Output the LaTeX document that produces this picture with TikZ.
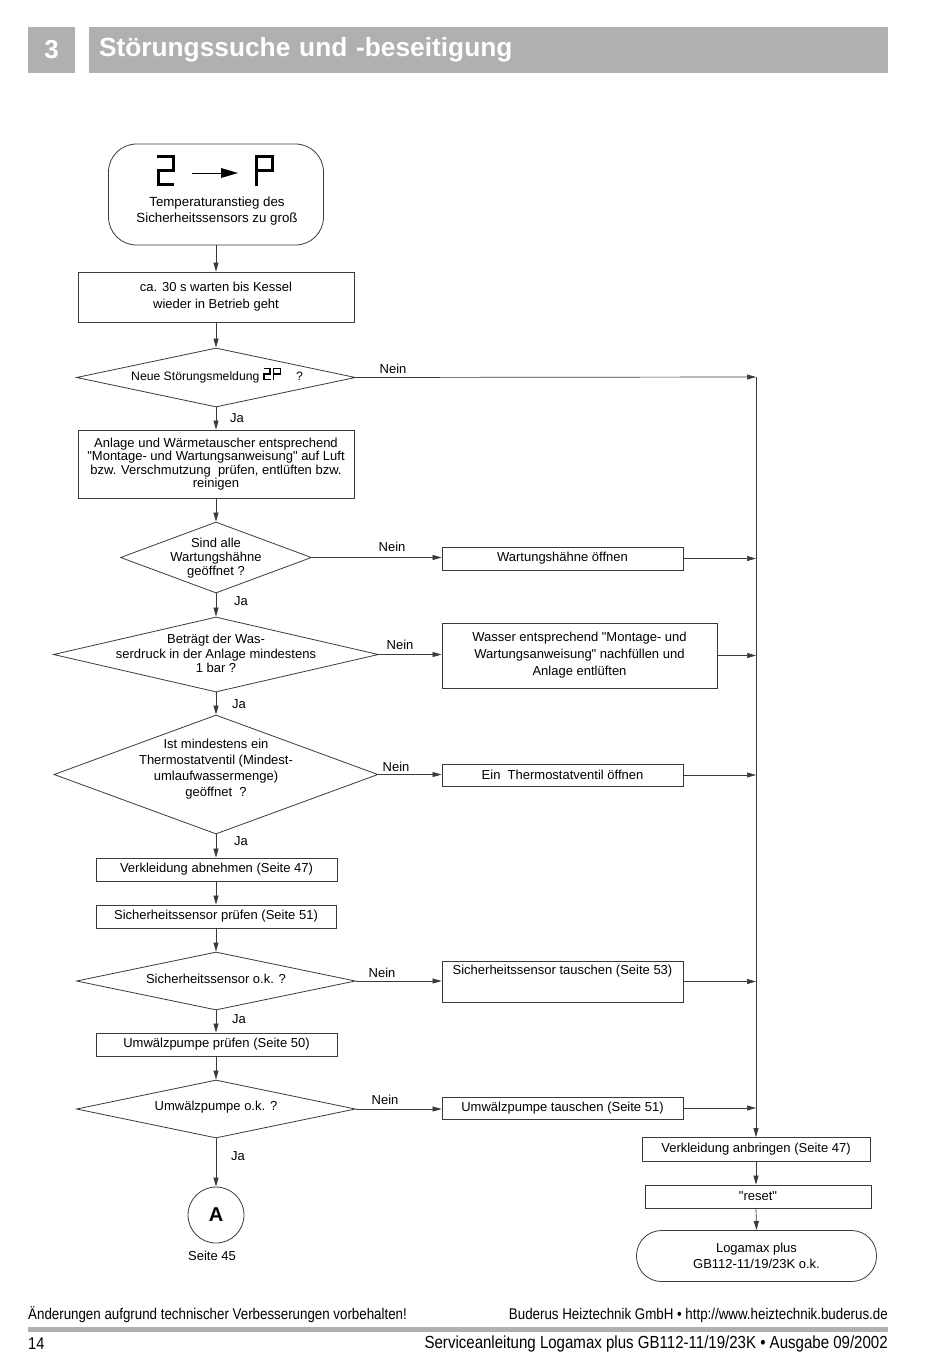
\documentclass[tikz,border=0pt]{standalone}
\usepackage{fontspec}
\setmainfont{Liberation Sans}[Ligatures=TeXOff]
\newfontfamily\narrowfont[FakeStretch=0.86]{Liberation Sans}
\usetikzlibrary{arrows.meta,shapes.geometric}
\definecolor{hdr}{HTML}{B0B0B0}
\definecolor{edge}{HTML}{3A3A3A}
\newcommand\fsz{\fontsize{13}{14}\selectfont}
\tikzset{
  box/.style={draw=edge, line width=0.8pt, fill=white, inner sep=2pt, align=center, font=\fsz},
  dia/.style={diamond, draw=edge, line width=0.8pt, inner sep=0pt},
  dtxt/.style={inner sep=0pt, align=center, font=\fsz},
  lbl/.style={inner sep=0pt, font=\fsz},
  arr/.style={-{Triangle[length=9pt,width=5pt]}, line width=0.7pt, draw=edge},
  ln/.style={line width=0.7pt, draw=edge},
  seg/.style={line width=3pt, line join=miter, line cap=butt},
  sseg/.style={line width=1.3pt, line join=miter, line cap=butt},
  ftr/.style={inner sep=0pt, font=\narrowfont\fontsize{15.5}{15.5}\selectfont},
}
\begin{document}
\begin{tikzpicture}[x=1pt,y=-1pt]
\useasboundingbox (0,0) rectangle (950,1357);

% header
\node[fill=hdr, minimum width=47, minimum height=46, inner sep=0pt, text=white,
      font=\bfseries\fontsize{26}{26}\selectfont] (hnum) at (51.5,50) {3};
\node[fill=hdr, minimum height=46, text width=779, inner xsep=10pt, inner ysep=0pt, align=left, text=white,
      font=\bfseries\fontsize{26.3}{26.3}\selectfont] (htitle) at (488.5,50) {\raisebox{1pt}{Störungssuche und -beseitigung}};

% start
\node[draw=edge, line width=0.8pt, rounded corners=28, minimum width=215, minimum height=101, inner sep=0pt] (start) at (216,194.5) {};
\node[dtxt, font=\fontsize{13.3}{16.8}\selectfont] (starttxt) at (217,211) {Temperaturanstieg des\\Sicherheitssensors zu groß};
\draw[seg] (157,156.5) -- (173,156.5) -- (173,170.5) -- (158.5,170.5) -- (158.5,184.5) -- (174,184.5);
\draw[line width=0.9pt] (192,173) -- (223,173);
\fill (221,168) -- (238,173) -- (221,178) -- cycle;
\draw[seg] (256,186) -- (256,156.5) -- (272,156.5) -- (272,170.5) -- (256,170.5);

% main column
\node[box, minimum width=276, minimum height=50, font=\fontsize{13}{17}\selectfont] (b1) at (216,297) {ca. 30 s warten bis Kessel\\wieder in Betrieb geht};
\node[dia, minimum width=279, minimum height=59] (d1) at (216,377.5) {};
\node[lbl, font=\fontsize{12.2}{14}\selectfont, anchor=base west] (d1t) at (131,380) {Neue Störungsmeldung};
\begin{scope}[shift={(d1t.base east)}]
  \draw[sseg] (4,-11.5) -- (10.5,-11.5) -- (10.5,-6) -- (4.5,-6) -- (4.5,-0.6) -- (11,-0.6);
  \draw[sseg] (14,0) -- (14,-11.5) -- (21,-11.5) -- (21,-6) -- (14,-6);
\end{scope}
\node[lbl, font=\fontsize{12.2}{14}\selectfont, anchor=base west] (d1q) at (296,380) {?};

\node[box, minimum width=276, minimum height=68, font=\fontsize{13}{13.4}\selectfont] (b2) at (216,464) {Anlage und Wärmetauscher entsprechend\\"Montage- und Wartungsanweisung" auf Luft\\bzw. Verschmutzung\ \ prüfen, entlüften bzw.\\reinigen};

\node[dia, minimum width=191, minimum height=71] (d2) at (216,557.5) {};
\node[dtxt] (d2t) at (216,558) {Sind alle\\Wartungshähne\\geöffnet ?};

\node[dia, minimum width=325, minimum height=75] (d3) at (216,654.5) {};
\node[dtxt, font=\fontsize{13}{14.5}\selectfont] (d3t) at (216,653.5) {Beträgt der Was-\\serdruck in der Anlage mindestens\\1 bar ?};

\node[dia, minimum width=324, minimum height=119] (d4) at (216,774.5) {};
\node[dtxt, font=\fontsize{13}{16}\selectfont] (d4t) at (216,769.5) {Ist mindestens ein\\Thermostatventil (Mindest-\\umlaufwassermenge)\\geöffnet\ \ ?};

\node[box, minimum width=241, minimum height=23] (bv) at (216.5,869.5) {Verkleidung abnehmen (Seite 47)};
\node[box, minimum width=240, minimum height=23] (bs) at (216,916.5) {Sicherheitssensor prüfen (Seite 51)};

\node[dia, minimum width=279, minimum height=58] (d5) at (216,981) {};
\node[dtxt] (d5t) at (216,978.5) {Sicherheitssensor o.k. ?};

\node[box, minimum width=241, minimum height=23] (bu) at (216.5,1044.5) {Umwälzpumpe prüfen (Seite 50)};

\node[dia, minimum width=279, minimum height=58] (d6) at (216,1109) {};
\node[dtxt] (d6t) at (216,1107.5) {Umwälzpumpe o.k. ?};

\node[circle, draw=edge, line width=0.8pt, minimum size=56, inner sep=0pt, font=\bfseries\fontsize{20}{20}\selectfont] (A) at (216,1215) {A};
\node[lbl] (s45) at (212,1256) {Seite 45};

% right column
\node[box, minimum width=241, minimum height=23] (r2) at (562.5,558.5) {Wartungshähne öffnen};
\node[box, minimum width=275, minimum height=65, font=\fontsize{13}{17}\selectfont] (r3) at (579.5,655.5) {Wasser entsprechend "Montage- und\\Wartungsanweisung" nachfüllen und\\Anlage entlüften};
\node[box, minimum width=241, minimum height=22] (r4) at (562.5,775) {Ein\ \ Thermostatventil öffnen};
\node[box, minimum width=241, minimum height=41] (r5) at (562.5,981.5) {};
\node[lbl] (r5t) at (562.5,971) {Sicherheitssensor tauschen (Seite 53)};
\node[box, minimum width=241, minimum height=22] (r6) at (562.5,1108) {Umwälzpumpe tauschen (Seite 51)};

\coordinate (bus) at (756,377);
\node[box, minimum width=228, minimum height=24] (k1) at (756,1149.5) {Verkleidung anbringen (Seite 47)};
\node[box, minimum width=226, minimum height=23] (k2) at (758,1196.5) {"reset"};
\node[draw=edge, line width=0.8pt, rounded corners=25, minimum width=240, minimum height=51, inner sep=0pt, align=center, font=\fontsize{13}{16}\selectfont] (k3) at (756.5,1256) {Logamax plus\\GB112-11/19/23K o.k.};

% connectors main column
\draw[arr] (start.south) -- (b1.north);
\draw[arr] (b1.south) -- (d1.north);
\draw[arr] (d1.south) -- (b2.north);
\draw[arr] (b2.south) -- (d2.north);
\draw[arr] (d2.south) -- (d3.north);
\draw[arr] (d3.south) -- (d4.north);
\draw[arr] (d4.south) -- (bv.north -| d4.south);
\draw[arr] (bv.south -| d4.south) -- (bs.north -| d4.south);
\draw[arr] (bs.south) -- (d5.north);
\draw[arr] (d5.south) -- (bu.north -| d5.south);
\draw[arr] (bu.south -| d5.south) -- (d6.north);
\draw[arr] (d6.south) -- (A.north);

% Nein branches
\draw[arr] (d1.east) -- (bus);
\draw[arr] (d2.east) -- (d2.east -| r2.west);
\draw[arr] (d3.east) -- (d3.east -| r3.west);
\draw[arr] (d4.east) -- (d4.east -| r4.west);
\draw[arr] (d5.east) -- (d5.east -| r5.west);
\draw[arr] (d6.east) -- (d6.east -| r6.west);
\draw[arr] (r2.east) -- (r2.east -| bus);
\draw[arr] (r3.east) -- (r3.east -| bus);
\draw[arr] (r4.east) -- (r4.east -| bus);
\draw[arr] (r5.east) -- (r5.east -| bus);
\draw[arr] (r6.east) -- (r6.east -| bus);
\draw[arr] (bus) -- (k1.north);
\draw[arr] (k1.south) -- (k1.south |- k2.north);
\draw[arr] (k1.south |- k2.south) -- (k3.north);

% labels
\node[lbl] (n1) at (393,369) {Nein};
\node[lbl] (n2) at (392,547) {Nein};
\node[lbl] (n3) at (400,645) {Nein};
\node[lbl] (n4) at (396,767) {Nein};
\node[lbl] (n5) at (382,973) {Nein};
\node[lbl] (n6) at (385,1100) {Nein};
\node[lbl] (j1) at (237,418) {Ja};
\node[lbl] (j2) at (241,601) {Ja};
\node[lbl] (j3) at (239,704) {Ja};
\node[lbl] (j4) at (241,841) {Ja};
\node[lbl] (j5) at (239,1019) {Ja};
\node[lbl] (j6) at (238,1156) {Ja};

% footer
\node[ftr, anchor=west] (f1) at (28,1315) {Änderungen aufgrund technischer Verbesserungen vorbehalten!};
\node[ftr, anchor=east] (f2) at (888,1315) {Buderus Heiztechnik GmbH • http://www.heiztechnik.buderus.de};
\fill[hdr] (28,1327) rectangle (888,1332);
\node[ftr, anchor=west, font=\narrowfont\fontsize{17}{17}\selectfont] (f3) at (28,1344) {14};
\node[ftr, anchor=east, font=\narrowfont\fontsize{17.5}{17.5}\selectfont] (f4) at (888,1344) {Serviceanleitung Logamax plus GB112-11/19/23K • Ausgabe 09/2002};
\end{tikzpicture}
\end{document}
